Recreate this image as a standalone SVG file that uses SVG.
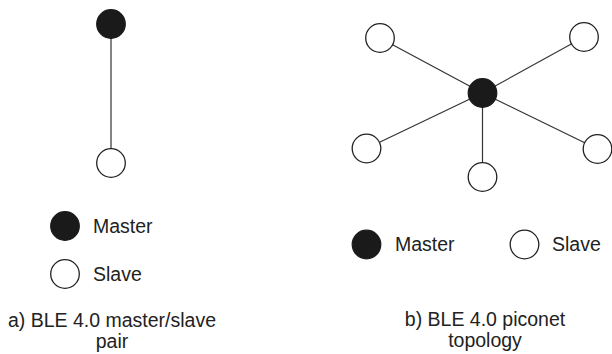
<svg xmlns="http://www.w3.org/2000/svg" width="612" height="354" viewBox="0 0 612 354">
<style>
.m{fill:#1a1a1a;stroke:#1a1a1a;stroke-width:1.2}
.s{fill:#fff;stroke:#222;stroke-width:1.3}
.e{stroke:#333;stroke-width:1.2;fill:none}
text{font-family:"Liberation Sans",Arial,sans-serif;font-size:19.5px;fill:#222}
.c{text-anchor:middle}
</style>
<rect width="612" height="354" fill="#fff"/>
<g id="connectors">
<line class="e" x1="111" y1="24" x2="111" y2="163"/>
<line class="e" x1="482.5" y1="93" x2="380" y2="38"/>
<line class="e" x1="482.5" y1="93" x2="584" y2="37"/>
<line class="e" x1="482.5" y1="93" x2="366.5" y2="148.5"/>
<line class="e" x1="482.5" y1="93" x2="597.5" y2="149"/>
<line class="e" x1="482.5" y1="93" x2="482.5" y2="177"/>
</g>
<g id="a-master"><circle class="m" cx="111" cy="24" r="14.3"/></g>
<g id="a-slave"><circle class="s" cx="111" cy="163" r="14.3"/></g>
<g id="b-master"><circle class="m" cx="482.5" cy="93" r="14.3"/></g>
<g id="b-slave1"><circle class="s" cx="380" cy="38" r="14.3"/></g>
<g id="b-slave2"><circle class="s" cx="584" cy="37" r="14.3"/></g>
<g id="b-slave3"><circle class="s" cx="366.5" cy="148.5" r="14.3"/></g>
<g id="b-slave4"><circle class="s" cx="597.5" cy="149" r="14.3"/></g>
<g id="b-slave5"><circle class="s" cx="482.5" cy="177" r="14.3"/></g>
<g id="legend-a">
<circle class="m" cx="65" cy="226" r="14.3"/>
<text x="93" y="233">Master</text>
<circle class="s" cx="65" cy="274" r="14.3"/>
<text x="93" y="281">Slave</text>
</g>
<g id="legend-b">
<circle class="m" cx="366.5" cy="244.5" r="14.3"/>
<text x="395" y="251">Master</text>
<circle class="s" cx="524.5" cy="244.5" r="14.3"/>
<text x="552" y="251">Slave</text>
</g>
<g id="caption-a">
<text class="c" x="112" y="327">a) BLE 4.0 master/slave</text>
<text class="c" x="112" y="348">pair</text>
</g>
<g id="caption-b">
<text class="c" x="485" y="326">b) BLE 4.0 piconet</text>
<text class="c" x="485" y="347">topology</text>
</g>
</svg>
